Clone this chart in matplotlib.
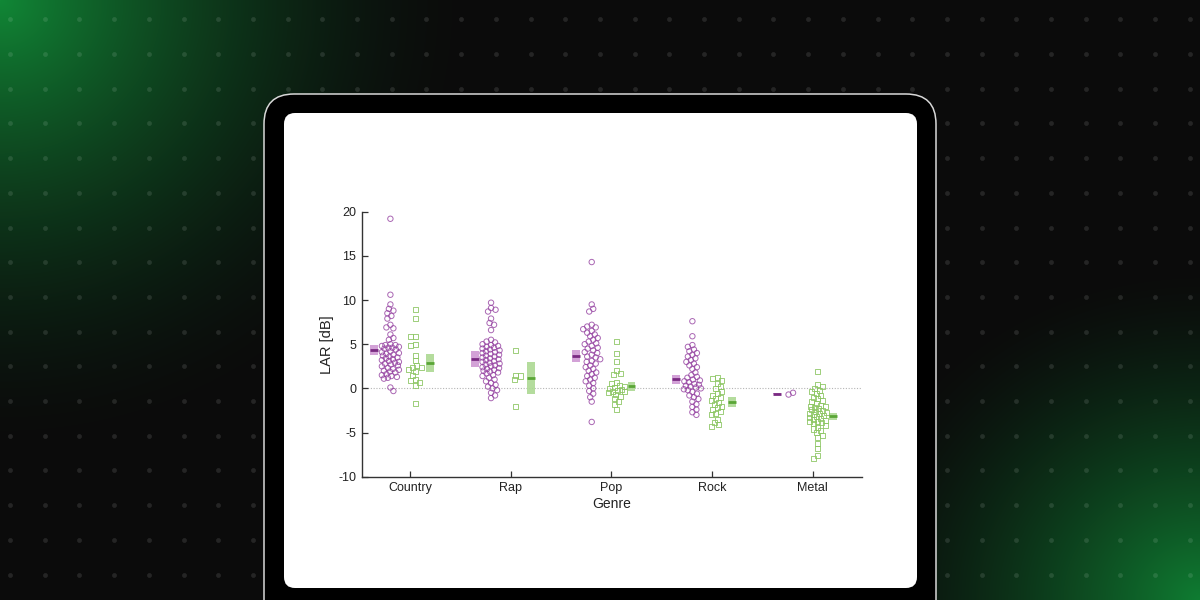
import numpy as np
import matplotlib
matplotlib.use("Agg")
import matplotlib.pyplot as plt
from matplotlib.patches import FancyBboxPatch, Rectangle

# ---------------- data ----------------
genres = ["Country", "Rap", "Pop", "Rock", "Metal"]

country_purple = [19.2, 10.6, 9.5, 9.0, 8.8, 8.5, 8.2, 7.9, 7.2, 6.9, 6.8, 6.1, 5.7, 5.5,
                  5.0, 4.9, 4.9, 4.8, 4.7, 4.6, 4.6, 4.5, 4.4, 4.2, 4.1, 4.0, 3.9, 3.8, 3.7,
                  3.6, 3.5, 3.4, 3.3, 3.2, 3.1, 3.0, 2.9, 2.8, 2.7, 2.6, 2.5, 2.3, 2.2, 2.1,
                  2.0, 1.9, 1.8, 1.6, 1.5, 1.4, 1.3, 1.2, 1.1, 0.1, -0.3]
rap_purple = [9.7, 9.1, 8.9, 8.7, 7.9, 7.4, 7.2, 6.6, 5.5, 5.3, 5.2, 5.0, 4.9, 4.8, 4.7,
              4.6, 4.5, 4.4, 4.3, 4.2, 4.1, 4.0, 3.9, 3.8, 3.7, 3.6, 3.5, 3.4, 3.3, 3.2,
              3.1, 3.0, 2.9, 2.8, 2.7, 2.6, 2.5, 2.4, 2.3, 2.2, 2.1, 2.0, 1.9, 1.8, 1.7,
              1.5, 1.4, 1.2, 1.0, 0.8, 0.6, 0.4, 0.2, 0.0, -0.2, -0.5, -0.8, -1.1]
pop_purple = [14.3, 9.5, 9.0, 8.7, 7.2, 7.0, 6.9, 6.7, 6.5, 6.3, 6.1, 5.9, 5.7, 5.5, 5.3,
              5.1, 5.0, 4.8, 4.6, 4.5, 4.3, 4.1, 4.0, 3.8, 3.6, 3.5, 3.3, 3.1, 3.0, 2.8,
              2.6, 2.4, 2.2, 2.0, 1.8, 1.6, 1.4, 1.2, 1.0, 0.8, 0.6, 0.3, 0.0, -0.3, -0.6,
              -1.0, -1.5, -3.8]
rock_purple = [7.6, 5.9, 4.9, 4.7, 4.4, 4.2, 4.0, 3.8, 3.6, 3.4, 3.2, 3.0, 2.8, 2.6, 2.4,
               2.2, 1.8, 1.5, 1.3, 1.2, 1.0, 0.9, 0.8, 0.7, 0.5, 0.4, 0.3, 0.2, 0.1, 0.0,
               -0.1, -0.2, -0.4, -0.6, -0.8, -1.0, -1.2, -1.5, -1.8, -2.1, -2.4, -2.7, -3.0]
metal_purple = [-0.5, -0.7]

country_green = [8.9, 7.9, 5.9, 5.9, 5.0, 4.8, 3.7, 3.1, 2.6, 2.4, 2.4, 2.1, 1.9, 1.5,
                 1.0, 0.9, 0.7, 0.3, -1.7]
rap_green = [4.3, 1.5, 1.4, 1.0, -2.1]
pop_green = [5.3, 3.9, 3.0, 2.0, 1.7, 1.6, 0.7, 0.5, 0.3, 0.2, 0.1, 0.0, -0.1, -0.2,
             -0.3, -0.4, -0.5, -0.7, -0.9, -1.2, -1.5, -1.8, -2.4]
rock_green = [1.2, 1.1, 0.9, 0.6, 0.2, 0.0, -0.3, -0.6, -0.8, -1.0, -1.2, -1.4, -1.6,
              -1.8, -2.0, -2.2, -2.4, -2.6, -2.8, -3.0, -3.5, -3.9, -4.1, -4.3]
metal_green = [1.9, 0.4, 0.2, 0.0, -0.2, -0.4, -0.6, -0.8, -1.0, -1.2, -1.4, -1.5, -1.7,
               -1.9, -2.0, -2.1, -2.2, -2.3, -2.4, -2.5, -2.6, -2.7, -2.8, -2.9, -3.0,
               -3.1, -3.2, -3.3, -3.4, -3.5, -3.6, -3.7, -3.8, -3.9, -4.0, -4.2, -4.4,
               -4.6, -4.8, -5.0, -5.3, -5.6, -6.2, -6.8, -7.6, -7.9]

purple_means = [4.3, 3.3, 3.7, 1.05, -0.6]
purple_ci = [0.56, 0.88, 0.70, 0.50, 0.04]
green_means = [2.86, 1.22, 0.23, -1.55, -3.15]
green_ci = [0.98, 1.82, 0.52, 0.57, 0.38]

yticks = [-10, -5, 0, 5, 10, 15, 20]

purple_groups = [country_purple, rap_purple, pop_purple, rock_purple, metal_purple]
green_groups = [country_green, rap_green, pop_green, rock_green, metal_green]

# ---------------- style ----------------
plt.rcParams['font.family'] = ['Liberation Sans', 'DejaVu Sans']
plt.rcParams['axes.unicode_minus'] = False

W, H = 1200, 600
fig = plt.figure(figsize=(12, 6), dpi=100)

# background axes in pixel coordinates
bg = fig.add_axes([0, 0, 1, 1], zorder=0)
bg.set_xlim(0, W)
bg.set_ylim(H, 0)
bg.axis('off')

yy, xx = np.mgrid[0:H, 0:W].astype(float)
base = np.array([11, 11, 11]) / 255.0
c1 = np.array([17, 135, 54]) / 255.0
c2 = np.array([15, 125, 50]) / 255.0
d1 = np.hypot(xx, yy * 1.05)
g1 = np.clip(1 - d1 / 480.0, 0, 1) ** 1.7
d2 = np.hypot(W - xx, (H - yy) * 1.1)
g2 = np.clip(1 - d2 / 370.0, 0, 1) ** 1.5
img = base[None, None, :] + g1[..., None] * (c1 - base) + g2[..., None] * (c2 - base)
bg.imshow(np.clip(img, 0, 1), extent=[0, W, H, 0], interpolation='bilinear', zorder=0)

gx = np.arange(10.0, W, 34.7)
gy = np.arange(19.3, H, 34.7)
GX, GY = np.meshgrid(gx, gy)
bg.scatter(GX.ravel(), GY.ravel(), s=12, color=(1, 1, 1, 0.11), linewidths=0, zorder=1)

# tablet
outer = FancyBboxPatch((264, 94), 672, 600, boxstyle="round,pad=0,rounding_size=30",
                       facecolor='#000000', edgecolor='#d8d8d8', linewidth=1.1, zorder=2)
bg.add_patch(outer)
screen = FancyBboxPatch((284, 113), 633, 475, boxstyle="round,pad=0,rounding_size=11",
                        facecolor='#ffffff', edgecolor='none', zorder=3)
bg.add_patch(screen)

# ---------------- chart ----------------
ax_left, ax_right, ax_top, ax_bot = 361.7, 861.7, 211.7, 476.7
ax = fig.add_axes([ax_left / W, (H - ax_bot) / H, (ax_right - ax_left) / W, (ax_bot - ax_top) / H],
                  zorder=5)
ax.set_facecolor('none')
xlim = (0.52, 5.487)
ylim = (-10, 20)
ax.set_xlim(*xlim)
ax.set_ylim(*ylim)
px_x = (ax_right - ax_left) / (xlim[1] - xlim[0])
px_y = (ax_bot - ax_top) / (ylim[1] - ylim[0])


def swarm(vals, center, d=4.6, maxw=8.5):
    vals = np.asarray(vals, float)
    ys = vals * px_y
    order = np.argsort(-vals)
    placed = []
    xs = np.zeros(len(vals))
    cands = [0.0]
    k = 1
    while k * 0.5 <= maxw:
        cands += [k * 0.5, -k * 0.5]
        k += 1
    for n, i in enumerate(order):
        y = ys[i]
        best, bestscore, bc = None, -1, 0.0
        # alternate the preferred side so sparse points do not line up
        cc = cands if n % 2 == 0 else [-c for c in cands]
        for c in cc:
            if placed:
                P = np.array(placed)
                md = np.min(np.hypot(P[:, 0] - c, P[:, 1] - y))
            else:
                md = 1e9
            if md >= d:
                best = c
                break
            if md > bestscore:
                bestscore, bc = md, c
        if best is None:
            best = bc
        placed.append((best, y))
        xs[i] = center + best / px_x
    return xs


purple_edge = '#9440a0'
green_edge = '#8cc663'
box_w = 0.078

for i, g in enumerate(genres):
    pos = i + 1
    pv = purple_groups[i]
    gv = green_groups[i]
    ax.scatter(swarm(pv, pos - 0.195), pv, s=15, marker='o', facecolors='none',
               edgecolors=purple_edge, linewidths=0.7, alpha=0.8, zorder=3)
    ax.scatter(swarm(gv, pos + 0.05), gv, s=13, marker='s', facecolors='none',
               edgecolors=green_edge, linewidths=0.7, alpha=0.85, zorder=3)
    # purple mean box
    pm, pc = purple_means[i], purple_ci[i]
    ax.add_patch(Rectangle((pos - 0.355 - box_w / 2, pm - pc), box_w, 2 * pc,
                           facecolor='#cf98d3', edgecolor='none', alpha=0.9, zorder=2))
    ax.plot([pos - 0.355 - box_w / 2, pos - 0.355 + box_w / 2], [pm, pm],
            color='#7a2a82', linewidth=2.0, solid_capstyle='butt', zorder=4)
    gm, gc = green_means[i], green_ci[i]
    ax.add_patch(Rectangle((pos + 0.2 - box_w / 2, gm - gc), box_w, 2 * gc,
                           facecolor='#acd992', edgecolor='none', alpha=0.9, zorder=2))
    ax.plot([pos + 0.2 - box_w / 2, pos + 0.2 + box_w / 2], [gm, gm],
            color='#5aa636', linewidth=2.0, solid_capstyle='butt', zorder=4)

ax.axhline(0, color='#b5b5b5', linewidth=0.8, linestyle=(0, (1, 1.5)), zorder=1)

for s in ['top', 'right']:
    ax.spines[s].set_visible(False)
for s in ['left', 'bottom']:
    ax.spines[s].set_color('#333333')
    ax.spines[s].set_linewidth(1.0)

ax.set_xticks(range(1, len(genres) + 1))
ax.set_xticklabels(genres)
ax.set_yticks(yticks)
ax.set_yticklabels([str(t) for t in yticks])
ax.tick_params(direction='in', length=4, width=0.9, colors='#333333', labelcolor='#222222',
               labelsize=9, pad=4)
ax.set_xlabel('Genre', fontsize=10, color='#222222', labelpad=2)
ax.set_ylabel('LAR [dB]', fontsize=10.5, color='#222222', labelpad=3)

fig.savefig('out.png', dpi=100)
